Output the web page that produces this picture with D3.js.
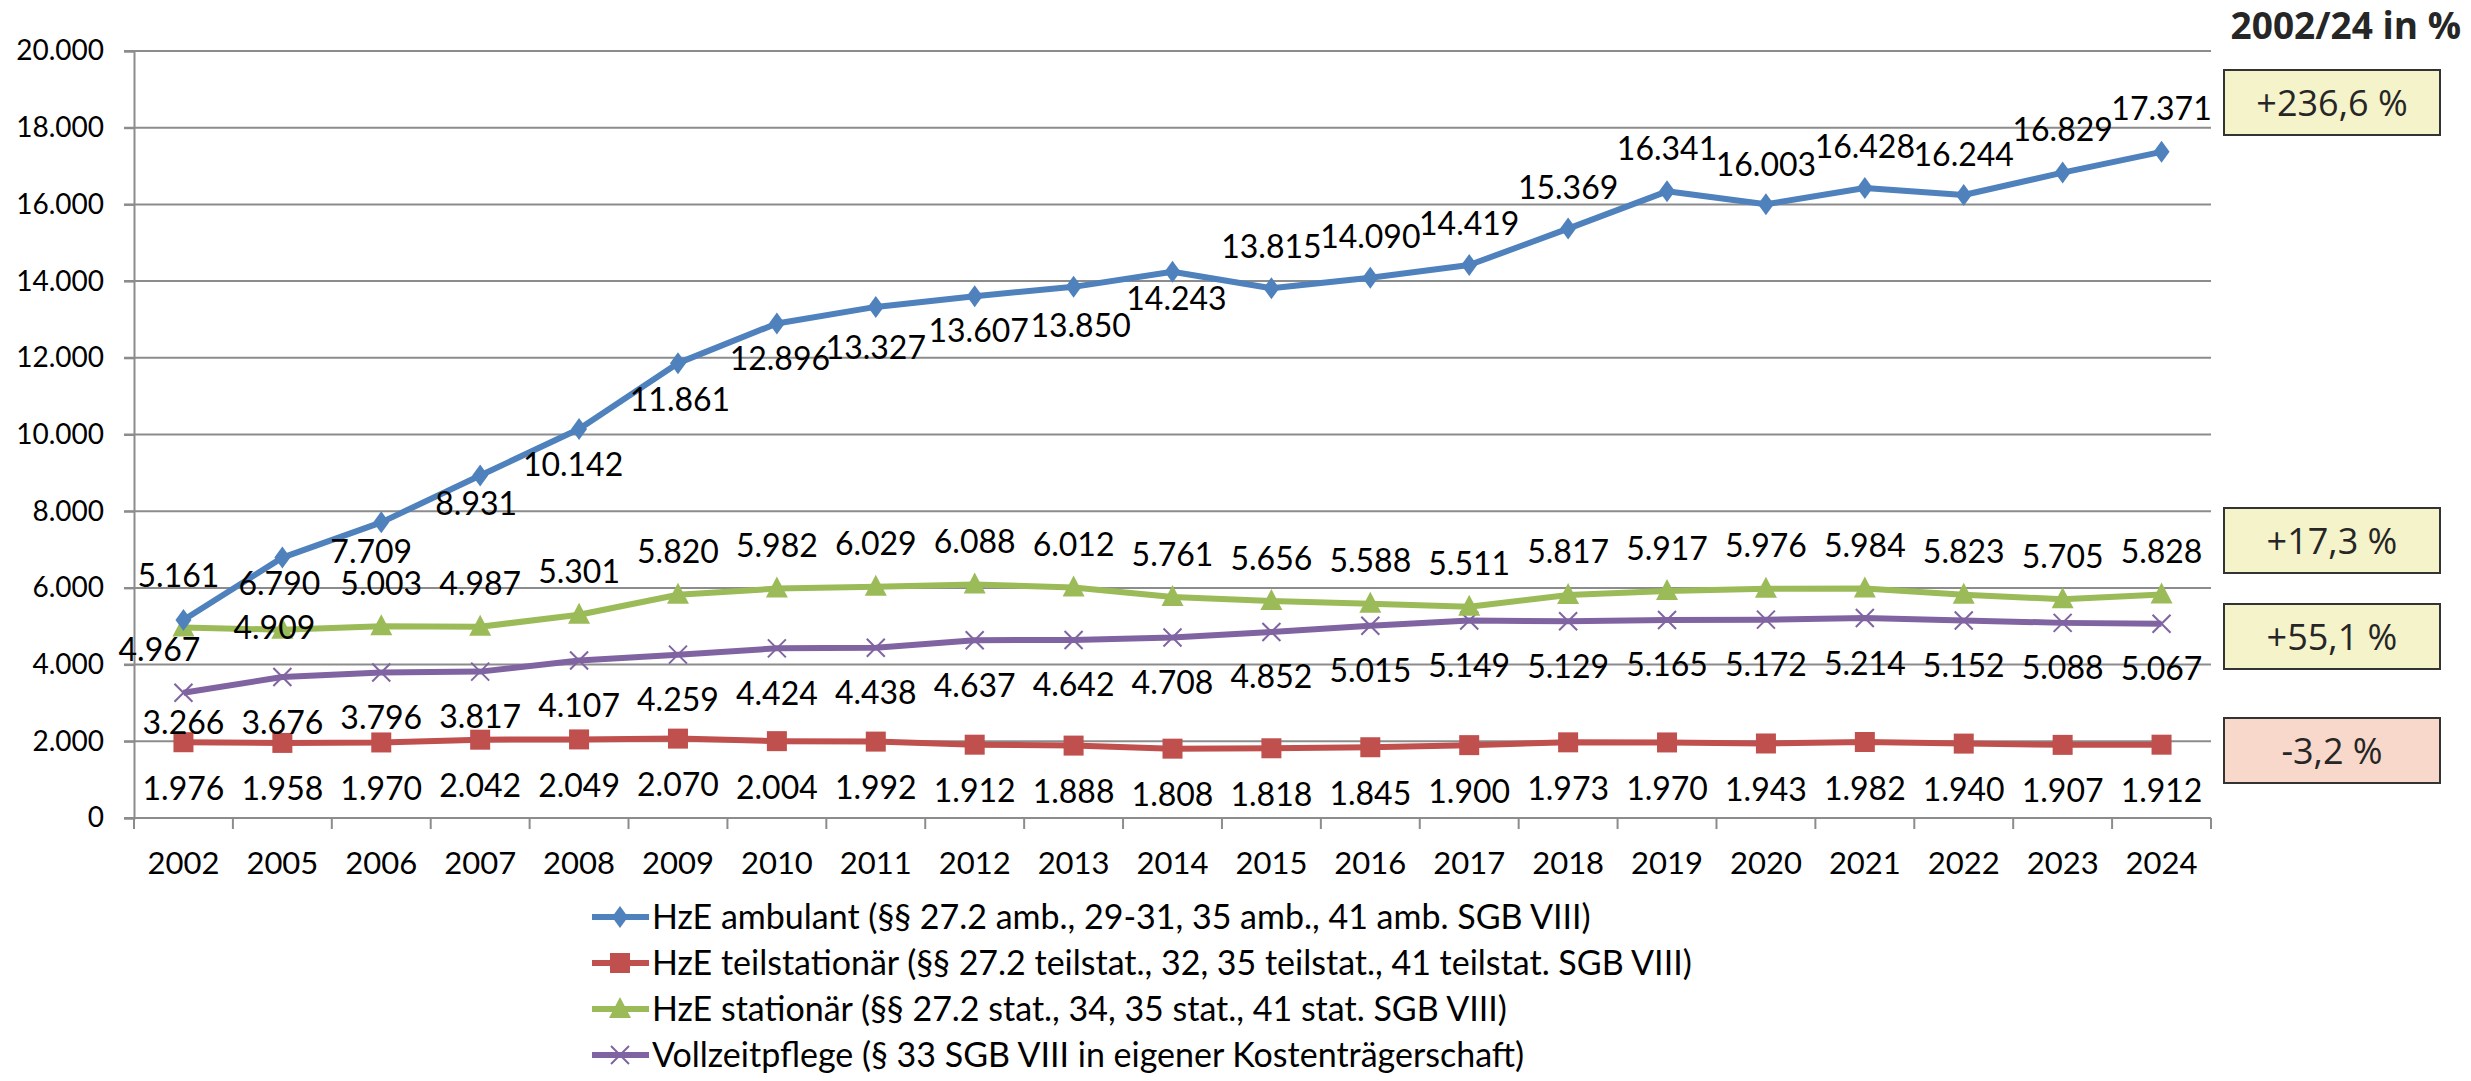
<!DOCTYPE html>
<html>
<head>
<meta charset="UTF-8">
<title>HzE Entwicklung 2002-2024</title>
<script src="https://cdn.jsdelivr.net/npm/d3@7"></script>
<style>
  body { margin: 0; background: #fff; }
  svg text { font-family: Lato, "Open Sans", sans-serif; fill: #000; }
  .axis path, .axis line { stroke: #8c8c8c; stroke-width: 2px; }
  .grid line { stroke: #8c8c8c; stroke-width: 2px; }
</style>
</head>
<body>
<div id="chart"></div>
<script>

var years = ['2002','2005','2006','2007','2008','2009','2010','2011','2012','2013','2014',
             '2015','2016','2017','2018','2019','2020','2021','2022','2023','2024'];

var ambulant = [5161, 6790, 7709, 8931, 10142, 11861, 12896, 13327, 13607, 13850, 14243,
                13815, 14090, 14419, 15369, 16341, 16003, 16428, 16244, 16829, 17371];
var teilstationaer = [1976, 1958, 1970, 2042, 2049, 2070, 2004, 1992, 1912, 1888, 1808,
                      1818, 1845, 1900, 1973, 1970, 1943, 1982, 1940, 1907, 1912];
var stationaer = [4967, 4909, 5003, 4987, 5301, 5820, 5982, 6029, 6088, 6012, 5761,
                  5656, 5588, 5511, 5817, 5917, 5976, 5984, 5823, 5705, 5828];
var vollzeitpflege = [3266, 3676, 3796, 3817, 4107, 4259, 4424, 4438, 4637, 4642, 4708,
                      4852, 5015, 5149, 5129, 5165, 5172, 5214, 5152, 5088, 5067];

var yTicks = [0, 2000, 4000, 6000, 8000, 10000, 12000, 14000, 16000, 18000, 20000];

var legendNames = [
  'HzE ambulant (§§ 27.2 amb., 29-31, 35 amb., 41 amb. SGB VIII)',
  'HzE teilstationär (§§ 27.2 teilstat., 32, 35 teilstat., 41 teilstat. SGB VIII)',
  'HzE stationär (§§ 27.2 stat., 34, 35 stat., 41 stat. SGB VIII)',
  'Vollzeitpflege (§ 33 SGB VIII in eigener Kostenträgerschaft)'
];

// label placement (offset of label centre from point), hand tuned like the original
var ambLabelDy = [-45, 26, 29, 28, 35, 36, 35, 41, 34, 39, 27, -42, -41, -42, -41, -43, -40, -42, -41, -43, -43];
var ambLabelDx = [-5, -3, -10, -4, -6, 2, 3, 0, 4, 7, 4, 0, 0, 0, 0, 0, 0, 0, 0, 0, 0];

var W = 2471, H = 1081;
var margin = {top: 51, right: 260, bottom: 263, left: 134};
var width = W - margin.left - margin.right,
    height = H - margin.top - margin.bottom;

var de = d3.formatLocale({decimal: ',', thousands: '.', grouping: [3], currency: ['', '€'], minus: '-'});
var fmt = de.format(',');
var fmtPct = de.format('+.1f');

var svg = d3.select('#chart').append('svg')
    .attr('width', W)
    .attr('height', H);

var g = svg.append('g')
    .attr('transform', 'translate(' + margin.left + ',' + margin.top + ')');

var xScale = d3.scaleBand()
    .domain(years)
    .range([0, width]);

var yScale = d3.scaleLinear()
    .domain([0, 20000])
    .range([height, 0]);

// gridlines
g.append('g')
    .attr('class', 'grid')
    .selectAll('line')
    .data(yTicks)
    .enter()
    .append('line')
    .attr('x1', -10)
    .attr('x2', width)
    .attr('y1', function(d){ return yScale(d); })
    .attr('y2', function(d){ return yScale(d); });

var yAxis = d3.axisLeft(yScale)
    .tickValues(yTicks)
    .tickSize(10)
    .tickPadding(20)
    .tickFormat(function(d){ return fmt(d); });

var yG = g.append('g')
    .attr('class', 'y axis')
    .call(yAxis);
yG.selectAll('text').style('font-size', '28px');

var xAxis = d3.axisBottom(xScale)
    .tickSize(0)
    .tickPadding(34);

var xG = g.append('g')
    .attr('class', 'x axis')
    .attr('transform', 'translate(0,' + height + ')')
    .call(xAxis);
xG.select('.domain').remove();
xG.selectAll('text').style('font-size', '31px');
xG.append('line')
    .attr('x1', 0).attr('x2', width)
    .attr('y1', 0).attr('y2', 0);
xG.selectAll('.sep')
    .data(years.concat(['end']))
    .enter()
    .append('line')
    .attr('class', 'sep')
    .attr('x1', function(d, i){ return i * xScale.bandwidth(); })
    .attr('x2', function(d, i){ return i * xScale.bandwidth(); })
    .attr('y1', 0)
    .attr('y2', 11);

var cx = function(i){ return xScale(years[i]) + xScale.bandwidth() / 2; };

var series = [
  {key: 'amb', values: ambulant, color: '#4f81bd', marker: 'diamond',
   dy: function(i){ return ambLabelDy[i]; }, dx: function(i){ return ambLabelDx[i]; }},
  {key: 'teil', values: teilstationaer, color: '#c0504d', marker: 'square',
   dy: function(i){ return 46; }, dx: function(i){ return 0; }},
  {key: 'stat', values: stationaer, color: '#9bbb59', marker: 'triangle',
   dy: function(i){ return i === 0 ? 22 : (i === 1 ? -2 : -43); },
   dx: function(i){ return i === 0 ? -24 : (i === 1 ? -8 : 0); }},
  {key: 'vzp', values: vollzeitpflege, color: '#8064a2', marker: 'cross',
   dy: function(i){ return i === 0 ? 30 : 45; }, dx: function(i){ return 0; }}
];

function drawMarker(sel, type, color) {
  if (type === 'diamond') {
    sel.append('path').attr('d', 'M0,-11L8,0L0,11L-8,0Z').attr('fill', color);
  } else if (type === 'square') {
    sel.append('rect').attr('x', -10).attr('y', -10).attr('width', 20).attr('height', 20).attr('fill', color);
  } else if (type === 'triangle') {
    sel.append('path').attr('d', 'M0,-12L11,9L-11,9Z').attr('fill', color);
  } else {
    sel.append('path').attr('d', 'M-9,-9L9,9M-9,9L9,-9')
      .attr('stroke', color).attr('stroke-width', 2).attr('fill', 'none');
  }
}

var line = d3.line()
    .x(function(d, i){ return cx(i); })
    .y(function(d){ return yScale(d); });

// draw order: lines first, markers on top
var order = [1, 3, 2, 0];
order.forEach(function(k){
  var s = series[k];
  g.append('path')
    .datum(s.values)
    .attr('fill', 'none')
    .attr('stroke', s.color)
    .attr('stroke-width', 6)
    .attr('stroke-linejoin', 'round')
    .attr('d', line);
  g.selectAll('.m-' + s.key)
    .data(s.values)
    .enter()
    .append('g')
    .attr('class', 'm-' + s.key)
    .attr('transform', function(d, i){ return 'translate(' + cx(i) + ',' + yScale(d) + ')'; })
    .each(function(){ drawMarker(d3.select(this), s.marker, s.color); });
});

series.forEach(function(s){
  g.selectAll('.l-' + s.key)
    .data(s.values)
    .enter()
    .append('text')
    .attr('class', 'l-' + s.key)
    .attr('x', function(d, i){ return cx(i) + s.dx(i); })
    .attr('y', function(d, i){ return yScale(d) + s.dy(i); })
    .attr('dy', '0.36em')
    .attr('text-anchor', 'middle')
    .style('font-size', '32px')
    .text(function(d){ return fmt(d); });
});

// change 2002 -> 2024 boxes
svg.append('text')
    .attr('x', 2461)
    .attr('y', 39)
    .attr('text-anchor', 'end')
    .style('font-family', '"Open Sans", sans-serif')
    .style('font-weight', 'bold')
    .style('font-size', '37px')
    .style('fill', '#262626')
    .text('2002/24 in %');

var boxes = [
  {s: 0, top: 70, fill: '#f5f3c9'},
  {s: 2, top: 508, fill: '#f5f3c9'},
  {s: 3, top: 604, fill: '#f5f3c9'},
  {s: 1, top: 718, fill: '#f8d8cb'}
];
boxes.forEach(function(b){
  var v = series[b.s].values;
  var pct = (v[v.length - 1] / v[0] - 1) * 100;
  var bg = svg.append('g').attr('transform', 'translate(2224,' + b.top + ')');
  bg.append('rect')
    .attr('width', 216).attr('height', 65)
    .attr('fill', b.fill)
    .attr('stroke', '#333').attr('stroke-width', 2);
  bg.append('text')
    .attr('x', 108).attr('y', 33).attr('dy', '0.36em')
    .attr('text-anchor', 'middle')
    .style('font-family', '"Open Sans", sans-serif')
    .style('font-size', '36px')
    .style('fill', '#262626')
    .text(fmtPct(pct) + ' %');
});

// legend
var legend = svg.append('g').attr('transform', 'translate(592,917)');
legendNames.forEach(function(name, i){
  var s = series[i];
  var row = legend.append('g').attr('transform', 'translate(0,' + (i * 46) + ')');
  row.append('line')
    .attr('x1', 0).attr('x2', 57)
    .attr('stroke', s.color).attr('stroke-width', 6);
  drawMarker(row.append('g').attr('transform', 'translate(28,0)'), s.marker, s.color);
  row.append('text')
    .attr('x', 60).attr('dy', '0.36em')
    .style('font-size', '34px')
    .text(name);
});
</script>
</body>
</html>
